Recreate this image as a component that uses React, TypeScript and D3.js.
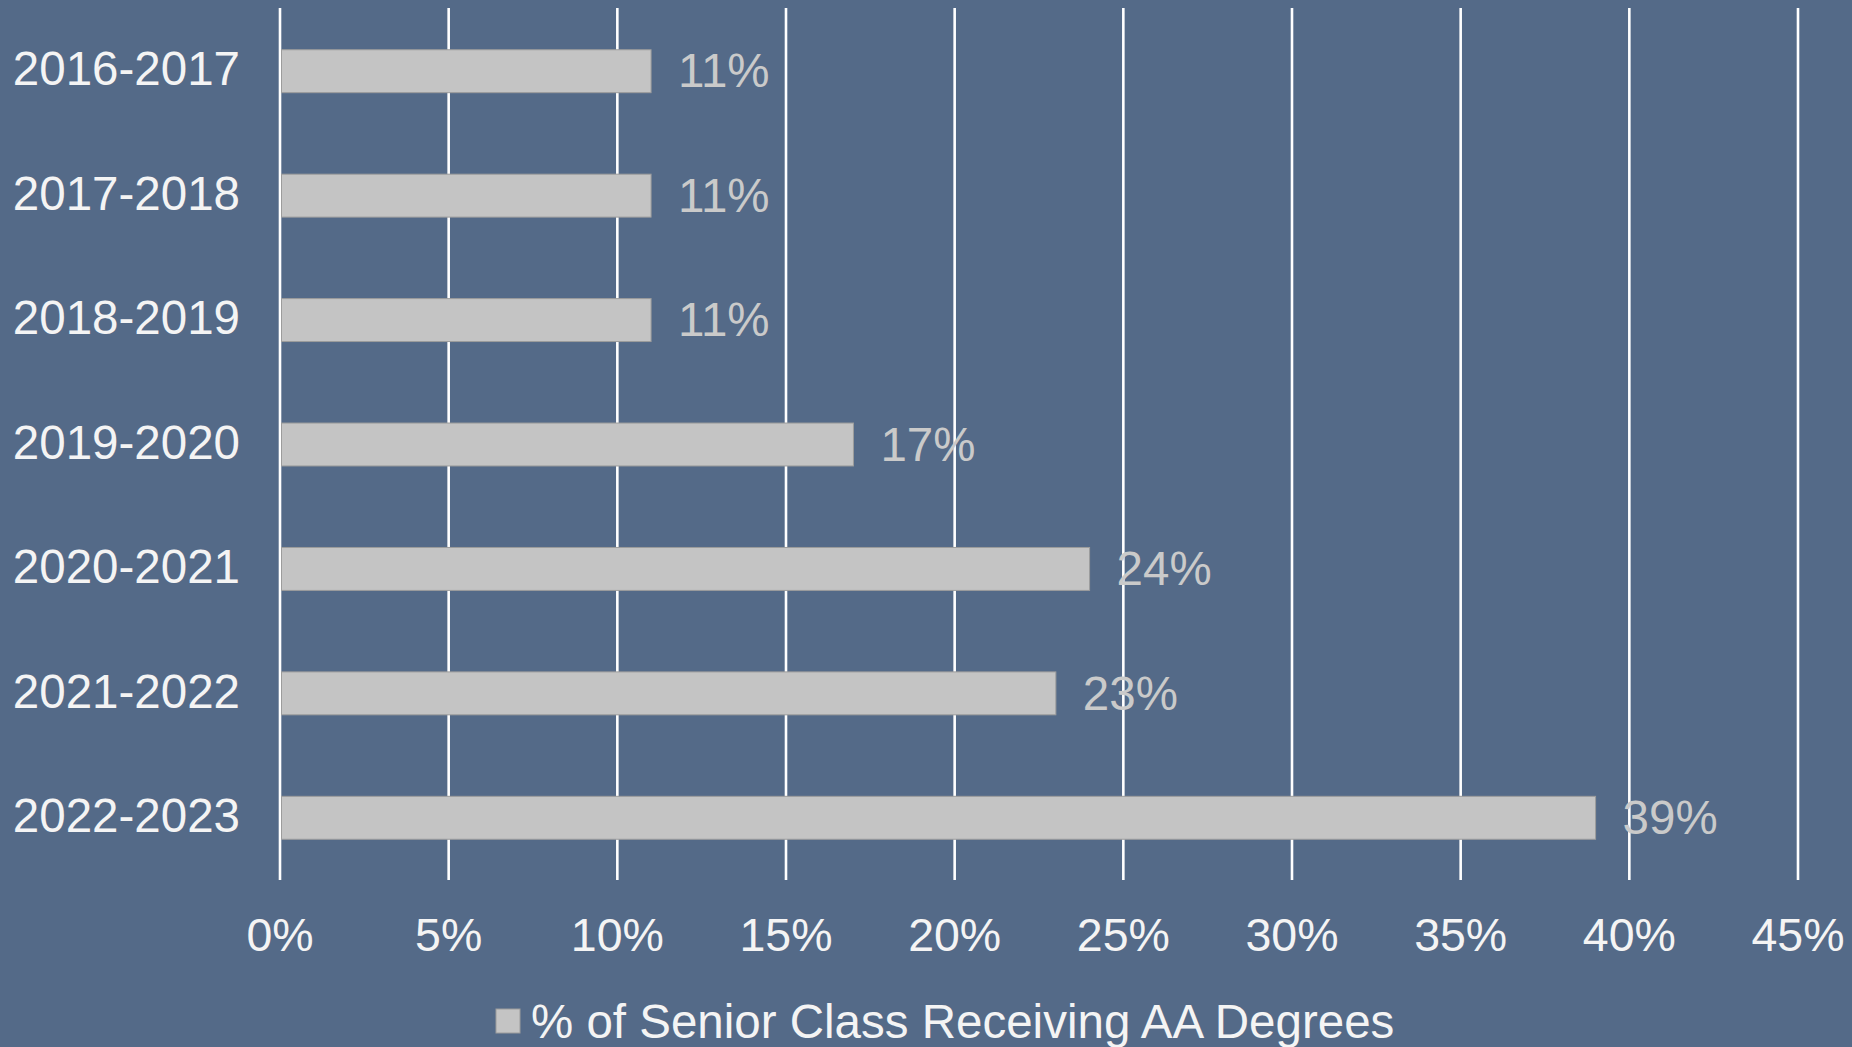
import React, { useEffect, useRef } from "react";
import * as d3 from "d3";

const years: string[] = [
    "2016-2017",
    "2017-2018",
    "2018-2019",
    "2019-2020",
    "2020-2021",
    "2021-2022",
    "2022-2023",
];
const aaPercent: number[] = [11, 11, 11, 17, 24, 23, 39];
const xTicks: number[] = [0, 5, 10, 15, 20, 25, 30, 35, 40, 45];
const seriesName = "% of Senior Class Receiving AA Degrees";

const App: React.FC = () => {
    const svgRef = useRef<SVGSVGElement | null>(null);
    const width = 1852;
    const height = 1047;
    const margins = { top: 8, right: 54, bottom: 167, left: 280 };
    const bg = "#546a88";
    const barColor = "#c4c4c4";
    const font = "'Liberation Sans', Arial, sans-serif";

    useEffect(() => {
        if (!svgRef.current) return;
        const svg = d3.select(svgRef.current);
        svg.selectAll("*").remove();

        svg.attr("viewBox", [0, 0, width, height])
            .attr("width", width)
            .attr("height", height);

        svg.append("rect")
            .attr("width", width)
            .attr("height", height)
            .attr("fill", bg);

        const x = d3
            .scaleLinear()
            .domain([0, 45])
            .range([margins.left, width - margins.right]);

        const y = d3
            .scaleBand<string>()
            .domain(years)
            .range([margins.top + 1, height - margins.bottom])
            .paddingInner(0.655)
            .paddingOuter(0.3275);

        // vertical gridlines (0% doubles as the axis line)
        svg.append("g")
            .selectAll("line")
            .data(xTicks)
            .join("line")
            .attr("x1", (d) => x(d))
            .attr("x2", (d) => x(d))
            .attr("y1", margins.top)
            .attr("y2", height - margins.bottom)
            .attr("stroke", "#ffffff")
            .attr("stroke-width", 2.6);

        // x tick labels
        svg.append("g")
            .selectAll("text")
            .data(xTicks)
            .join("text")
            .attr("x", (d) => x(d))
            .attr("y", 935)
            .attr("dy", "0.35em")
            .attr("text-anchor", "middle")
            .attr("font-family", font)
            .attr("font-size", 46.5)
            .attr("fill", "#f4f4f4")
            .text((d) => `${d}%`);

        // category labels
        svg.append("g")
            .selectAll("text")
            .data(years)
            .join("text")
            .attr("x", margins.left - 40)
            .attr("y", (d) => (y(d) ?? 0) + y.bandwidth() / 2)
            .attr("dy", "0.3em")
            .attr("text-anchor", "end")
            .attr("font-family", font)
            .attr("font-size", 47.5)
            .attr("fill", "#f4f4f4")
            .text((d) => d);

        // bars
        svg.append("g")
            .selectAll("rect")
            .data(aaPercent)
            .join("rect")
            .attr("x", x(0) + 1.5)
            .attr("y", (_, i) => y(years[i]) ?? 0)
            .attr("width", (d) => x(d) - x(0) - 1.5)
            .attr("height", y.bandwidth())
            .attr("fill", barColor)
            .attr("stroke", "#9c9c9c")
            .attr("stroke-width", 1);

        // data labels
        svg.append("g")
            .selectAll("text")
            .data(aaPercent)
            .join("text")
            .attr("x", (d) => x(d) + 27)
            .attr("y", (_, i) => (y(years[i]) ?? 0) + y.bandwidth() / 2)
            .attr("dy", "0.34em")
            .attr("font-family", font)
            .attr("font-size", 47.5)
            .attr("fill", "#cacaca")
            .text((d) => `${d}%`);

        // legend
        const legend = svg.append("g").attr("transform", `translate(496,1021)`);
        legend
            .append("rect")
            .attr("x", 0)
            .attr("y", -12)
            .attr("width", 24)
            .attr("height", 24)
            .attr("fill", barColor)
            .attr("stroke", "#9c9c9c")
            .attr("stroke-width", 1);
        legend
            .append("text")
            .attr("x", 35)
            .attr("y", 0)
            .attr("dy", "0.35em")
            .attr("font-family", font)
            .attr("font-size", 47.5)
            .attr("fill", "#f4f4f4")
            .text(seriesName);
    }, []);

    return (
        <svg
            ref={svgRef}
            style={{ position: "absolute", left: 0, top: 0, display: "block" }}
        ></svg>
    );
};

export default App;
